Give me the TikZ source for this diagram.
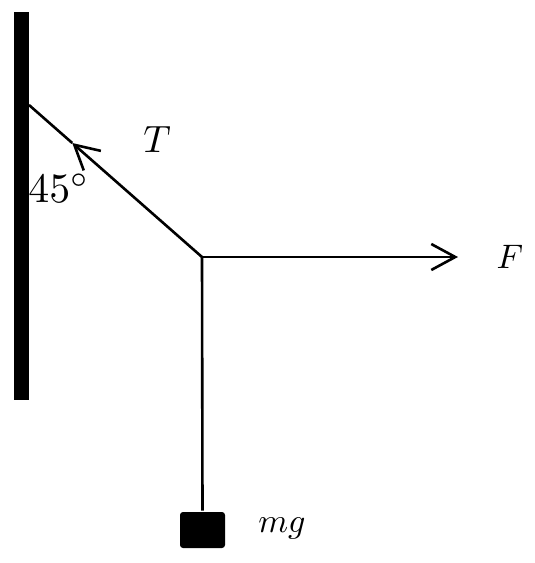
\documentclass[tikz,border=0pt]{standalone}
\usetikzlibrary{calc, arrows.meta}
\tikzset{
    barb/.style={-{Straight Barb[length=24pt,width=26pt]}},
    big/.style={scale=3.8},
    mid/.style={scale=3.4}
}

\begin{document}
\begin{tikzpicture}[x=1pt,y=-1pt,line width=2.6pt]
            \useasboundingbox (0,0) rectangle (535,563);
            % wall
            \fill (14,12) rectangle (29,400);
            \coordinate (A) at (29,105);
            \coordinate (O) at (202,257);
            \coordinate (Tp) at ($(A)!0.25!(O)$);
            \coordinate (Fe) at (458,257);
            \node[fill,rounded corners=3pt,minimum width=45pt,minimum height=36pt,inner sep=0pt] (mass) at (202.5,530) {};

            \draw[barb] (O)--(Tp);
            \draw (Tp)--(A);
            \draw[barb] (O)--(Fe);
            \draw (O)--(mass.north);

            \node[big] (T) at (157,140) {\(T\)};
            \node[big,scale=1.1] (ang) at (59,188) {\(45^{\circ}\)};
            \node[mid] (F) at (510,257) {\(F\)};
            \node[mid] (mg) at (282,528) {\(mg\)};
        \end{tikzpicture}
\end{document}
